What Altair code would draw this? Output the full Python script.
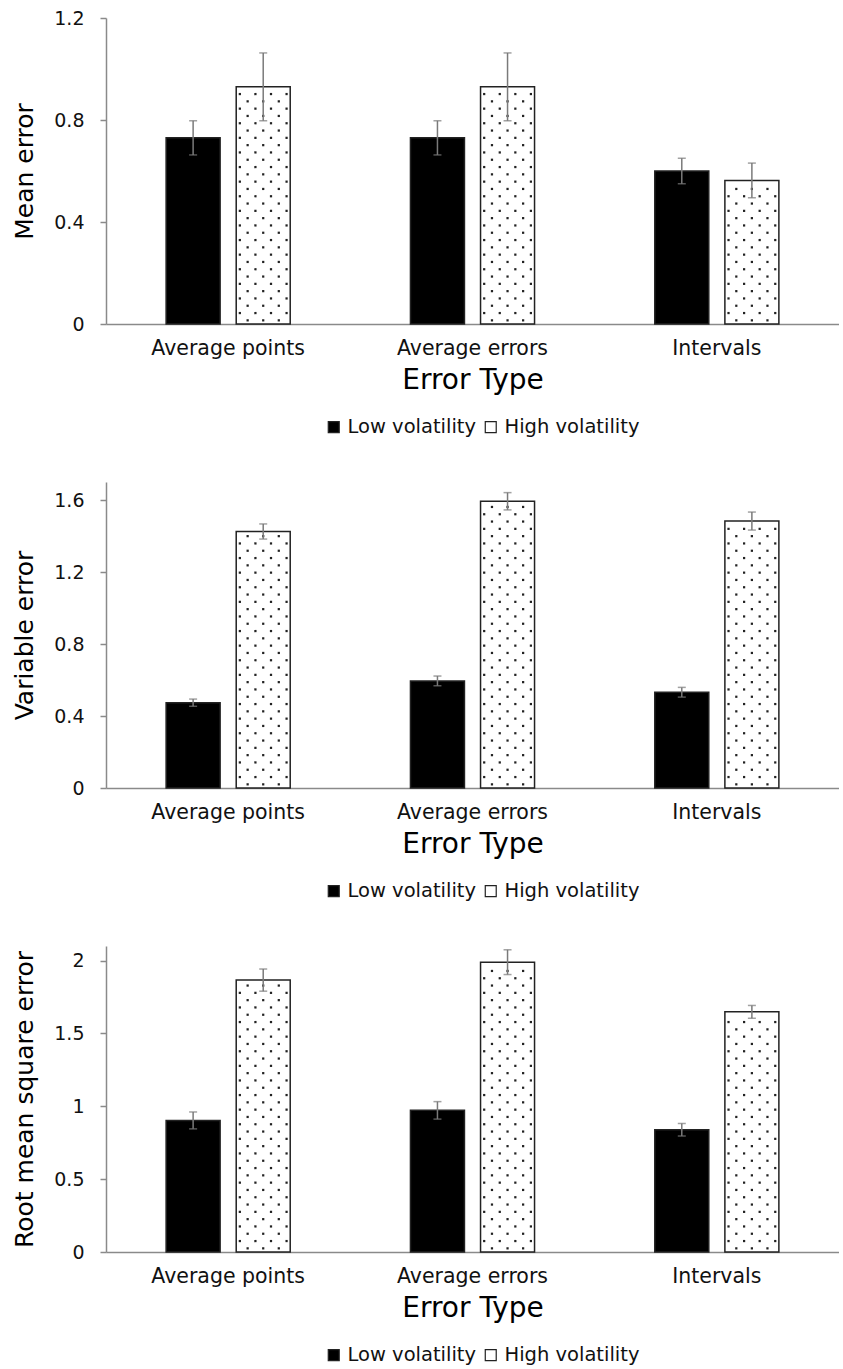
import json
import altair as alt
import pandas as pd

# ---------------- data ----------------
categories = ["Average points", "Average errors", "Intervals"]
series = ["Low volatility", "High volatility"]

# Panel 1: Mean error
mean_low = [0.73, 0.73, 0.60]
mean_low_err = [0.067, 0.067, 0.05]
mean_high = [0.93, 0.93, 0.563]
mean_high_err = [0.133, 0.133, 0.068]

# Panel 2: Variable error
var_low = [0.474, 0.595, 0.532]
var_low_err = [0.02, 0.027, 0.027]
var_high = [1.425, 1.593, 1.483]
var_high_err = [0.042, 0.048, 0.05]

# Panel 3: Root mean square error
rmse_low = [0.903, 0.972, 0.839]
rmse_low_err = [0.058, 0.06, 0.043]
rmse_high = [1.866, 1.989, 1.648]
rmse_high_err = [0.076, 0.085, 0.044]

FONT = "DejaVu Sans"
AXIS_GRAY = "#8a8a8a"
ERR_GRAY = "#7a7a7a"
PLOT_W = 733
PLOT_H = 306
N_SLOTS = 16  # sub-positions inside each category band


def panel(low, low_err, high, high_err, ymax, ticks, ytitle):
    df = pd.DataFrame({
        "Category": categories * 2,
        "Series": [series[0]] * 3 + [series[1]] * 3,
        "value": low + high,
        "err": low_err + high_err,
    })
    high_df = pd.DataFrame({"Category": categories, "value": high})

    x_enc = alt.X(
        "Category:N",
        sort=categories,
        scale=alt.Scale(paddingInner=0.49, paddingOuter=0.245),
        axis=alt.Axis(
            title="Error Type", labelFontSize=20.5, labelPadding=14, ticks=False,
            titleFontSize=28, titleFontWeight="normal", titlePadding=8,
            labelAngle=0, domainColor=AXIS_GRAY, domainWidth=1.5,
        ),
    )
    xo_enc = alt.XOffset(
        "slot:O",
        scale=alt.Scale(domain=list(range(N_SLOTS)), paddingInner=0, paddingOuter=0),
    )
    y_scale = alt.Scale(domain=[0, ymax], nice=False)
    y_axis = alt.Axis(
        title=ytitle, values=ticks, format=".1~f", labelFontSize=19,
        labelPadding=16, tickSize=6, titleFontSize=25, titleFontWeight="normal",
        titlePadding=16, domainColor=AXIS_GRAY, tickColor=AXIS_GRAY,
        domainWidth=1.5, tickWidth=1.5, grid=False,
    )

    base = alt.Chart(df).transform_calculate(
        slot=f"datum.Series == '{series[0]}' ? 3 : 12",
        lo="datum.value - datum.err",
        hi="datum.value + datum.err",
    )

    bars = base.mark_bar(width=54, stroke="#222222", strokeWidth=1.5).encode(
        x=x_enc,
        xOffset=xo_enc,
        y=alt.Y("value:Q", scale=y_scale, axis=y_axis),
        fill=alt.Fill(
            "Series:N",
            sort=series,
            scale=alt.Scale(domain=series, range=["#000000", "#ffffff"]),
            legend=alt.Legend(
                title=None, orient="none", legendX=218, legendY=399,
                direction="horizontal",
                labelFontSize=19.5, symbolType="square", symbolSize=120,
                symbolStrokeColor="#222222", symbolStrokeWidth=1.2,
                columnPadding=4, labelOffset=4,
            ),
        ),
    )

    # dotted texture for the high-volatility bars
    dy = ymax * 7.3 / PLOT_H
    dots = alt.Chart(alt.sequence(0, 80, as_="r")).transform_calculate(
        Category=json.dumps(categories),
        slot="datum.r % 2 == 0 ? [10, 12, 14] : [9, 11, 13, 15]",
        yy=f"(datum.r + 0.5) * {dy}",
    ).transform_flatten(["Category"]).transform_flatten(["slot"]).transform_lookup(
        lookup="Category",
        from_=alt.LookupData(data=high_df, key="Category", fields=["value"]),
    ).transform_filter(
        f"datum.yy < datum.value - {0.4 * dy}"
    ).mark_square(size=5, color="#222222", opacity=1).encode(
        x=alt.X("Category:N", sort=categories),
        xOffset=alt.XOffset("slot:O"),
        y=alt.Y("yy:Q"),
    )

    rules = base.mark_rule(color=ERR_GRAY, strokeWidth=1.5).encode(
        x=alt.X("Category:N", sort=categories),
        xOffset=alt.XOffset("slot:O"),
        y="lo:Q",
        y2="hi:Q",
    )
    cap_lo = base.mark_tick(color=ERR_GRAY, thickness=1.5, size=8, orient="horizontal").encode(
        x=alt.X("Category:N", sort=categories),
        xOffset=alt.XOffset("slot:O"),
        y="lo:Q",
    )
    cap_hi = base.mark_tick(color=ERR_GRAY, thickness=1.5, size=8, orient="horizontal").encode(
        x=alt.X("Category:N", sort=categories),
        xOffset=alt.XOffset("slot:O"),
        y="hi:Q",
    )

    return alt.layer(bars, dots, rules, cap_lo, cap_hi).properties(
        width=PLOT_W, height=PLOT_H
    )


p1 = panel(mean_low, mean_low_err, mean_high, mean_high_err, 1.2,
           [0, 0.4, 0.8, 1.2], "Mean error")
p2 = panel(var_low, var_low_err, var_high, var_high_err, 1.7,
           [0, 0.4, 0.8, 1.2, 1.6], "Variable error")
p3 = panel(rmse_low, rmse_low_err, rmse_high, rmse_high_err, 2.1,
           [0, 0.5, 1, 1.5, 2], "Root mean square error")

chart = alt.vconcat(p1, p2, p3, spacing=45).resolve_scale(
    fill="independent"
).resolve_legend(
    fill="independent"
).properties(
    padding={"left": 12, "top": 9, "right": 0, "bottom": 0}
).configure(
    font=FONT,
    background="white",
).configure_axis(
    labelFont=FONT, titleFont=FONT, labelColor="#111111", titleColor="#000000",
).configure_legend(
    labelFont=FONT, labelColor="#111111",
).configure_view(
    strokeWidth=0,
)

chart.save("out.html", embed_options={"renderer": "svg", "actions": False})
